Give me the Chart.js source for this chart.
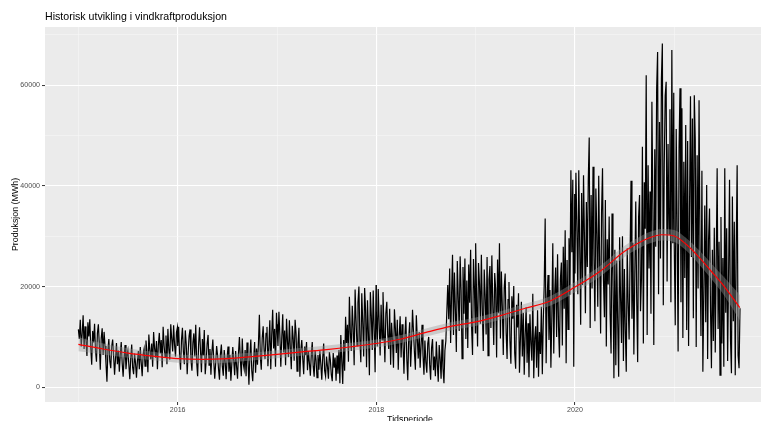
<!DOCTYPE html>
<html lang="no">
<head>
<meta charset="utf-8">
<title>Historisk utvikling i vindkraftproduksjon</title>
<script src="https://cdn.jsdelivr.net/npm/chart.js@4.4.1/dist/chart.umd.min.js"></script>
<style>
  html, body { margin: 0; padding: 0; background: #ffffff; overflow: hidden; }
  #wrap { width: 761px; height: 421px; position: relative; }
  canvas { display: block; }
</style>
</head>
<body>
<div id="wrap"><canvas id="chart" width="761" height="421"></canvas></div>
<script>
// Daily wind power production (MWh), sampled twice a week (every 3.5 days) from 1 January of each year
const sampleStepDays = 3.5;

const prod2015 = [
  11500, 9600, 13400, 8100, 10700, 14300, 7600, 12100, 9300,
  6200, 12900, 10100, 13500, 7800, 4500, 11200, 8900,
  12600, 7300, 5100, 10800, 12500, 8400, 3500, 9800, 11700,
  6400, 11000, 8200, 4700, 1100, 7300, 9600, 5200,
  3800, 8100, 9500, 6200, 2500, 5700, 8800, 4600, 7300,
  3100, 6500, 9000, 4800, 2100, 5900, 8400, 3600, 6200,
  7300, 4500, 1600, 5800, 8500, 3900, 2600, 6700, 4800,
  1900, 5300, 7200, 3600, 8000, 4900, 2200, 6500,
  7600, 4200, 9300, 6800, 3000, 10500, 7400, 5600, 8700,
  4100, 11000, 7800, 5900, 9200, 3600, 8500, 10800, 6700,
  9400, 4000, 12000, 8300, 6100, 10300, 4600, 11600, 7500,
  5500, 12500, 9700, 7100, 12300, 8400, 6100, 10900, 11900
];

const prod2016 = [
  8200, 12000, 6400, 3500, 9400, 11800, 7100, 4600, 11300,
  8600, 2600, 6900, 10200, 11500, 5400, 3300, 8800,
  10700, 6100, 12400, 4900, 2200, 8400, 11900, 7300, 3000,
  9600, 6300, 11400, 2600, 5300, 8700, 10400, 4400, 7600,
  2500, 6900, 9500, 5200, 1700, 4800, 8200, 6300, 3600,
  1500, 6600, 8500, 4200, 2300, 7400, 5100, 1600,
  5800, 8100, 3100, 6400, 1300, 4700, 8000, 5300, 2400,
  7200, 4100, 1700, 6800, 10000, 5400, 2200, 9700, 4700,
  3600, 7400, 2200, 8900, 5600, 500, 6100, 9500, 3300,
  1200, 5700, 9000, 2900, 7700, 4500, 8600, 14400, 6100,
  3500, 9800, 12100, 7200, 5600, 10700, 12000, 4200,
  8300, 13300, 3600, 10500, 15400, 7700, 11600, 4100, 14800
];

const prod2017 = [
  12500, 8200, 15000, 10300, 4100, 9900, 14500, 6900, 11300,
  4400, 13600, 9100, 6000, 13300, 7700, 3600, 12200,
  9700, 5300, 13400, 10700, 3200, 8600, 11800, 2100, 7400,
  9400, 5800, 2600, 8100, 6400, 9000, 3400, 7200, 4800,
  2300, 6600, 9000, 4200, 2100, 7400, 5300, 1900, 6400,
  3500, 7300, 4600, 1500, 5900, 8700, 3300, 2200,
  6100, 4100, 1700, 7000, 5400, 2500, 1200, 6800, 3900,
  5900, 1300, 6300, 2700, 7400, 800, 10400, 5200, 650,
  9400, 3300, 14000, 8800, 12400, 5100, 18000, 10900, 7200,
  16200, 11800, 4400, 19400, 13300, 8200, 16800, 20000, 9500,
  5000, 18700, 12900, 6100, 19700, 15200, 4000, 17300,
  10600, 2400, 18900, 14300, 7400, 19200, 11700, 3000, 20300
];

const prod2018 = [
  15200, 8100, 19500, 12600, 6300, 16400, 9400, 18900, 11800,
  5000, 14700, 17000, 10400, 7600, 15600, 4500, 12800,
  9300, 3900, 15500, 11700, 6800, 13400, 3500, 10200, 14100,
  5900, 12500, 8700, 2700, 10300, 14000, 5600, 1400, 9800,
  12900, 4100, 8600, 15400, 11200, 6900, 3500, 14300, 9700,
  5700, 11000, 3900, 8400, 12400, 6300, 2500, 9300,
  5000, 2900, 8700, 10000, 4600, 1500, 7800, 9600, 3400,
  6100, 2200, 9100, 4800, 1100, 8400, 5600, 1700, 9500,
  3800, 800, 7300, 9200, 15000, 20300, 13500, 23600, 8800,
  18400, 26300, 10400, 22800, 15600, 7000, 25100, 17900, 11200,
  26000, 19300, 5700, 23900, 14600, 25600, 9600, 21200,
  7800, 24400, 16800, 27300, 12100, 6400, 25500, 19700, 10800
];

const prod2019 = [
  28600, 17900, 8100, 24700, 20600, 12600, 26300, 15300, 7200,
  23400, 18100, 10500, 25900, 6300, 21400, 24100, 11800,
  26200, 16200, 8400, 22700, 19500, 5900, 25400, 14700, 28600,
  9700, 23000, 15900, 6400, 19800, 22600, 11000, 5600, 17400,
  20900, 9200, 4700, 18100, 13600, 20100, 6800, 3700, 16400,
  11900, 18700, 2900, 9600, 17000, 6100, 14800, 2500,
  10400, 15900, 4900, 12700, 2000, 14500, 8800, 5300, 18600,
  1800, 9700, 12100, 3900, 15300, 2100, 11000, 6600, 16000,
  2600, 13200, 20400, 33500, 4800, 17500, 22300, 9400, 19300,
  3900, 14200, 28600, 6700, 18600, 23800, 10000, 26400, 12100,
  5900, 21500, 24800, 8300, 27900, 15600, 31200, 4800,
  25300, 11500, 29600, 18400, 43100, 26800, 41200, 4100, 38400
];

const prod2020 = [
  22600, 42600, 31800, 18500, 43100, 27900, 12400, 38600, 20300,
  42100, 29500, 14700, 36800, 23900, 41000, 49600, 11800,
  38200, 19600, 43800, 26100, 13100, 39500, 30400, 16000, 42000,
  24600, 10700, 34700, 43500, 21300, 13900, 37200, 8100, 29400,
  20400, 33900, 14500, 6700, 34500, 22100, 1800, 27300, 4400,
  25200, 12600, 2100, 29800, 17700, 8800, 30000, 5200,
  23500, 11400, 3100, 27600, 16800, 9500, 25900, 41000, 13600,
  28700, 6500, 22400, 36900, 17400, 5000, 33800, 38200, 15100,
  21600, 47800, 8700, 40700, 31500, 62000, 10400, 44100, 23600,
  38900, 14600, 56700, 36500, 8400, 47300, 27900, 59300, 66600,
  18500, 52700, 25600, 61200, 68300, 16300, 44300, 57900,
  60700, 21000, 48300, 30400, 55200, 16900, 67000, 28600, 58500
];

const prod2021 = [
  27600, 12300, 51300, 31800, 7100, 47600, 59400, 16900, 55400,
  9800, 44800, 21700, 52100, 11400, 48900, 8200, 35600,
  57800, 25900, 53400, 13700, 58000, 49200, 8000, 46100, 19600,
  57000, 26800, 10200, 43000, 3100, 18300, 36100, 12900,
  40200, 5600, 29400, 35500, 15800, 3800, 27300, 9200, 31700,
  6900, 24500, 43500, 11600, 28900, 2400, 33800, 8700,
  25700, 4100, 43500, 14800, 31600, 5200, 22300, 41200, 9600,
  2800, 37900, 13100, 32900, 2400, 27500, 44100, 6300, 3800, 15700
];

const productionByYear = [
  [2015, prod2015], [2016, prod2016], [2017, prod2017], [2018, prod2018],
  [2019, prod2019], [2020, prod2020], [2021, prod2021]
];

// Smoothed trend (loess) with its standard-error half width, in MWh
const smoothX = [2015, 2015.25, 2015.5, 2015.75, 2016, 2016.25, 2016.5, 2016.75,
  2017, 2017.25, 2017.5, 2017.75, 2018, 2018.25, 2018.5, 2018.75,
  2019, 2019.25, 2019.5, 2019.75, 2020, 2020.25, 2020.5, 2020.625,
  2020.75, 2020.875, 2021, 2021.125, 2021.25, 2021.375, 2021.5, 2021.66];
const smoothFit = [8540, 7600, 6800, 6200, 5700, 5550, 5700, 6100,
  6550, 7050, 7500, 8050, 8700, 9600, 10900, 12100,
  13000, 14250, 15700, 17150, 19900, 23000, 27000, 28500,
  29700, 30300, 30050, 28300, 25800, 23000, 20100, 15820];
const smoothSe = [1400, 1100, 950, 850, 800, 800, 800, 800,
  800, 800, 800, 800, 800, 800, 800, 800,
  850, 850, 900, 950, 1000, 1050, 1100, 1100,
  1150, 1150, 1200, 1250, 1400, 1550, 1800, 2500];

// Axis breaks
const xBreaks = [2015, 2016, 2017, 2018, 2019, 2020, 2021];
const xLabelled = [2016, 2018, 2020];
const yBreaks = [0, 10000, 20000, 30000, 40000, 50000, 60000, 70000];
const yLabelled = [0, 20000, 40000, 60000];

const chartTitle = 'Historisk utvikling i vindkraftproduksjon';
const xTitle = 'Tidsperiode';
const yTitle = 'Produksjon (MWh)';

// ---- build chart data ----
function daysInYear(y) { return (y % 4 === 0 && (y % 100 !== 0 || y % 400 === 0)) ? 366 : 365; }

const productionPoints = [];
productionByYear.forEach(([year, values]) => {
  const n = daysInYear(year);
  values.forEach((v, i) => productionPoints.push({ x: year + (i * sampleStepDays) / n, y: v }));
});

const fitPoints = smoothX.map((x, i) => ({ x, y: smoothFit[i] }));
const upperPoints = smoothX.map((x, i) => ({ x, y: smoothFit[i] + smoothSe[i] }));
const lowerPoints = smoothX.map((x, i) => ({ x, y: smoothFit[i] - smoothSe[i] }));

const FONT = '"Liberation Sans", Arial, Helvetica, sans-serif';

const panelBackground = {
  id: 'panelBackground',
  beforeDraw(chart) {
    const { ctx, chartArea: a } = chart;
    ctx.save();
    ctx.fillStyle = '#EBEBEB';
    ctx.fillRect(a.left, a.top, a.right - a.left, a.bottom - a.top);
    ctx.restore();
  }
};

const titles = {
  id: 'titles',
  afterDraw(chart) {
    const { ctx, chartArea: a } = chart;
    ctx.save();
    ctx.fillStyle = '#000000';
    ctx.textAlign = 'left';
    ctx.textBaseline = 'alphabetic';
    ctx.font = '10.6px ' + FONT;
    ctx.fillText(chartTitle, a.left, a.top - 7.5);

    ctx.font = '8.85px ' + FONT;
    ctx.textAlign = 'center';
    ctx.fillText(xTitle, a.left + 365, a.bottom + 20.3);

    ctx.translate(15.5, (a.top + a.bottom) / 2);
    ctx.rotate(-Math.PI / 2);
    ctx.textBaseline = 'middle';
    ctx.fillText(yTitle, 0, 0);
    ctx.restore();
  }
};

new Chart(document.getElementById('chart'), {
  type: 'line',
  data: {
    datasets: [
      {
        label: 'Produksjon',
        data: productionPoints,
        borderColor: '#000000',
        borderWidth: 1.2,
        pointRadius: 0,
        tension: 0,
        fill: false,
        order: 3
      },
      {
        label: 'SE øvre',
        data: upperPoints,
        borderWidth: 0,
        borderColor: 'rgba(0,0,0,0)',
        pointRadius: 0,
        cubicInterpolationMode: 'monotone',
        fill: false,
        order: 2
      },
      {
        label: 'SE nedre',
        data: lowerPoints,
        borderWidth: 0,
        borderColor: 'rgba(0,0,0,0)',
        backgroundColor: 'rgba(153,153,153,0.4)',
        pointRadius: 0,
        cubicInterpolationMode: 'monotone',
        fill: '-1',
        order: 2
      },
      {
        label: 'Trend',
        data: fitPoints,
        borderColor: '#FF0000',
        borderWidth: 1.2,
        pointRadius: 0,
        cubicInterpolationMode: 'monotone',
        fill: false,
        order: 1
      }
    ]
  },
  options: {
    responsive: false,
    animation: false,
    devicePixelRatio: 1,
    events: [],
    layout: { padding: { top: 27, left: 0, right: 0, bottom: 0 } },
    plugins: {
      legend: { display: false },
      tooltip: { enabled: false },
      title: { display: false }
    },
    scales: {
      x: {
        type: 'linear',
        min: 2014.664,
        max: 2021.873,
        afterBuildTicks(scale) { scale.ticks = xBreaks.map(v => ({ value: v })); },
        afterFit(scale) { scale.height = 19; },
        border: { display: false },
        grid: {
          color: c => xLabelled.includes(c.tick.value) ? '#FFFFFF' : '#F7F7F7',
          lineWidth: c => xLabelled.includes(c.tick.value) ? 1.1 : 0.6,
          tickColor: c => xLabelled.includes(c.tick.value) ? '#333333' : 'rgba(0,0,0,0)',
          tickWidth: 1,
          tickLength: 3
        },
        ticks: {
          autoSkip: false,
          maxRotation: 0,
          padding: 1,
          color: '#4D4D4D',
          font: { family: FONT, size: 7.07 },
          callback: v => xLabelled.includes(v) ? String(v) : ''
        }
      },
      y: {
        type: 'linear',
        min: -2920,
        max: 71560,
        afterBuildTicks(scale) { scale.ticks = yBreaks.map(v => ({ value: v })); },
        afterFit(scale) { scale.width = 45; },
        border: { display: false },
        grid: {
          color: c => yLabelled.includes(c.tick.value) ? '#FFFFFF' : '#F7F7F7',
          lineWidth: c => yLabelled.includes(c.tick.value) ? 1.1 : 0.6,
          tickColor: c => yLabelled.includes(c.tick.value) ? '#333333' : 'rgba(0,0,0,0)',
          tickWidth: 1,
          tickLength: 3
        },
        ticks: {
          autoSkip: false,
          padding: 2,
          color: '#4D4D4D',
          font: { family: FONT, size: 7.07 },
          callback: v => yLabelled.includes(v) ? String(v) : ''
        }
      }
    }
  },
  plugins: [panelBackground, titles]
});
</script>
</body>
</html>
